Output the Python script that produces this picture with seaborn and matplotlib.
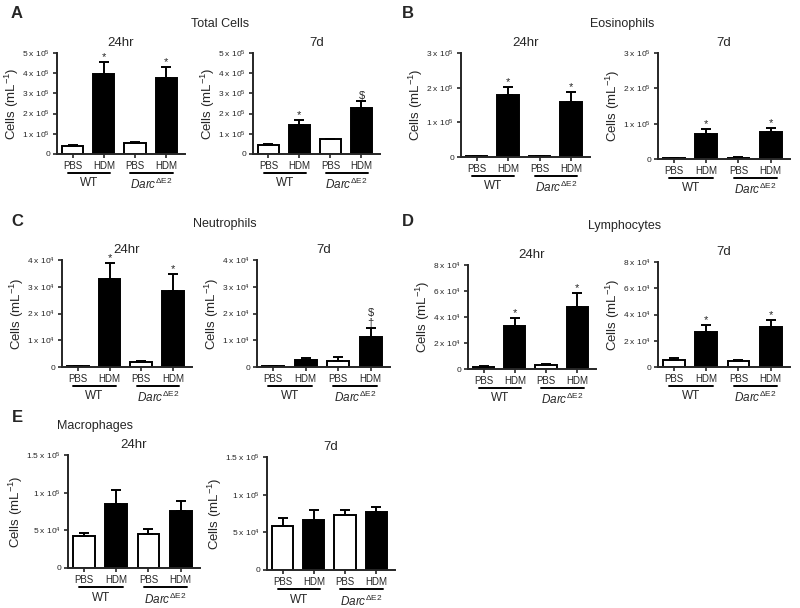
import numpy as np
import pandas as pd
import matplotlib
matplotlib.use('Agg')
import matplotlib.pyplot as plt
import matplotlib.transforms as mtransforms
import seaborn as sns

# --- data ---
bar_labels = ['PBS', 'HDM', 'PBS', 'HDM']
treatment = ['PBS', 'HDM', 'PBS', 'HDM']
genotype = ['WT', 'WT', 'Darc', 'Darc']

total_24h = [0.42e5, 3.96e5, 0.56e5, 3.74e5]
total_24h_sem = [0.05e5, 0.59e5, 0.03e5, 0.55e5]
total_7d = [0.45e5, 1.46e5, 0.72e5, 2.26e5]
total_7d_sem = [0.04e5, 0.20e5, 0.02e5, 0.38e5]

eos_24h = [0.03e5, 1.78e5, 0.03e5, 1.59e5]
eos_24h_sem = [0.005e5, 0.24e5, 0.005e5, 0.28e5]
eos_7d = [0.02e5, 0.70e5, 0.04e5, 0.77e5]
eos_7d_sem = [0.005e5, 0.14e5, 0.005e5, 0.11e5]

neu_24h = [0.04e4, 3.29e4, 0.19e4, 2.85e4]
neu_24h_sem = [0.01e4, 0.61e4, 0.03e4, 0.61e4]
neu_7d = [0.02e4, 0.25e4, 0.24e4, 1.12e4]
neu_7d_sem = [0.01e4, 0.10e4, 0.13e4, 0.32e4]

lym_24h = [0.18e4, 3.31e4, 0.31e4, 4.79e4]
lym_24h_sem = [0.02e4, 0.64e4, 0.04e4, 1.08e4]
lym_7d = [0.50e4, 2.65e4, 0.48e4, 3.03e4]
lym_7d_sem = [0.16e4, 0.55e4, 0.08e4, 0.56e4]

mac_24h = [4.2e4, 8.46e4, 4.5e4, 7.6e4]
mac_24h_sem = [0.4e4, 1.84e4, 0.65e4, 1.3e4]
mac_7d = [5.8e4, 6.7e4, 7.3e4, 7.7e4]
mac_7d_sem = [1.1e4, 1.3e4, 0.6e4, 0.6e4]

# significance marks above each bar
marks_total_24h = ['', '*', '', '*']
marks_total_7d = ['', '*', '', '$']
marks_eos = ['', '*', '', '*']
marks_neu_24h = ['', '*', '', '*']
marks_neu_7d = ['', '', '', '$\n†']
marks_lym = ['', '*', '', '*']
marks_none = ['', '', '', '']

ticks_total = ([0, 1e5, 2e5, 3e5, 4e5, 5e5],
               ['0', r'1 x 10$^5$', r'2 x 10$^5$', r'3 x 10$^5$', r'4 x 10$^5$', r'5 x 10$^5$'])
ticks_eos = ([0, 1e5, 2e5, 3e5], ['0', r'1 x 10$^5$', r'2 x 10$^5$', r'3 x 10$^5$'])
ticks_neu = ([0, 1e4, 2e4, 3e4, 4e4], ['0', r'1 x 10$^4$', r'2 x 10$^4$', r'3 x 10$^4$', r'4 x 10$^4$'])
ticks_lym = ([0, 2e4, 4e4, 6e4, 8e4], ['0', r'2 x 10$^4$', r'4 x 10$^4$', r'6 x 10$^4$', r'8 x 10$^4$'])
ticks_mac = ([0, 5e4, 1e5, 1.5e5], ['0', r'5 x 10$^4$', r'1 x 10$^5$', r'1.5 x 10$^5$'])

sns.set_style('ticks')
plt.rcParams['font.family'] = ['Liberation Sans', 'DejaVu Sans']
plt.rcParams['mathtext.fontset'] = 'custom'
plt.rcParams['mathtext.rm'] = 'Liberation Sans'
plt.rcParams['mathtext.it'] = 'Liberation Sans:italic'
plt.rcParams['mathtext.default'] = 'regular'

W, H = 800, 608
fig = plt.figure(figsize=(8, 6.08), dpi=100)


def px_axes(x0, x1, ytop, ybot):
    return fig.add_axes([x0 / W, 1 - ybot / H, (x1 - x0) / W, (ybot - ytop) / H])


def px_text(x, y, s, **kw):
    fig.text(x / W, 1 - y / H, s, **kw)


def draw_panel(box, values, sems, marks, ticks, title):
    ax = px_axes(*box)
    df = pd.DataFrame({'cond': [g + ' ' + t for g, t in zip(genotype, treatment)],
                       'treatment': treatment, 'value': values})
    sns.barplot(data=df, x='cond', y='value', hue='treatment',
                palette={'PBS': 'white', 'HDM': 'black'}, edgecolor='black',
                linewidth=1.4, width=0.68, legend=False, ax=ax, errorbar=None)
    xs = np.arange(len(values))
    ax.errorbar(xs, values, yerr=[np.zeros(len(values)), sems], fmt='none',
                ecolor='black', elinewidth=1.4, capsize=3.5, capthick=1.4)
    for x, v, s, m in zip(xs, values, sems, marks):
        if m:
            ax.text(x, v + s, m, ha='center', va='bottom', fontsize=8, linespacing=1.0)
    ax.set_xlim(-0.5, 3.6)
    ax.set_ylim(0, ticks[0][-1])
    ax.set_yticks(ticks[0])
    ax.set_yticklabels(ticks[1], fontsize=6)
    ax.set_xticks(xs)
    ax.set_xticklabels(bar_labels, fontsize=7)
    ax.set_xlabel('')
    ax.set_ylabel('Cells (mL$^{-1}$)', fontsize=9.5, labelpad=1)
    ax.tick_params(length=3, width=1.2, pad=2)
    for sp in ['top', 'right']:
        ax.spines[sp].set_visible(False)
    for sp in ['left', 'bottom']:
        ax.spines[sp].set_linewidth(1.4)
    # group underlines and genotype labels
    trans = mtransforms.blended_transform_factory(ax.transData, ax.transAxes)
    off = 19 / (box[3] - box[2])
    for x0, x1, lab in [(-0.15, 1.2, 'WT'), (1.85, 3.2, r'$\mathit{Darc}^{\Delta \mathrm{E2}}$')]:
        ax.plot([x0, x1], [-off, -off], color='black', lw=1.4, transform=trans, clip_on=False)
        ax.text((x0 + x1) / 2, -off - 0.04, lab, transform=trans, ha='center', va='top', fontsize=8.5)
    px_text((box[0] + box[1]) / 2, box[2] - 10, title, ha='center', va='center', fontsize=9.5)
    return ax


draw_panel((57, 185, 53, 154), total_24h, total_24h_sem, marks_total_24h, ticks_total, '24hr')
draw_panel((253, 380, 53, 154), total_7d, total_7d_sem, marks_total_7d, ticks_total, '7d')
draw_panel((461, 590, 53, 157), eos_24h, eos_24h_sem, marks_eos, ticks_eos, '24hr')
draw_panel((658, 790, 53, 159), eos_7d, eos_7d_sem, marks_eos, ticks_eos, '7d')
draw_panel((62, 192, 260, 367), neu_24h, neu_24h_sem, marks_neu_24h, ticks_neu, '24hr')
draw_panel((257, 390, 260, 367), neu_7d, neu_7d_sem, marks_neu_7d, ticks_neu, '7d')
draw_panel((468, 596, 265, 369), lym_24h, lym_24h_sem, marks_lym, ticks_lym, '24hr')
draw_panel((658, 790, 262, 367), lym_7d, lym_7d_sem, marks_lym, ticks_lym, '7d')
draw_panel((68, 200, 455, 568), mac_24h, mac_24h_sem, marks_none, ticks_mac, '24hr')
draw_panel((267, 395, 457, 570), mac_7d, mac_7d_sem, marks_none, ticks_mac, '7d')

# panel letters and cell-type headers
for x, y, s in [(17, 13, 'A'), (408, 13, 'B'), (17, 222, 'C'), (408, 222, 'D'), (17, 418, 'E')]:
    px_text(x, y, s, ha='center', va='center', fontsize=12, fontweight='bold')
for x, y, s in [(220, 24, 'Total Cells'), (622, 24, 'Eosinophils'), (225, 224, 'Neutrophils'),
                (625, 226, 'Lymphocytes'), (95, 426, 'Macrophages')]:
    px_text(x, y, s, ha='center', va='center', fontsize=9)

fig.savefig('out.png', dpi=100)
